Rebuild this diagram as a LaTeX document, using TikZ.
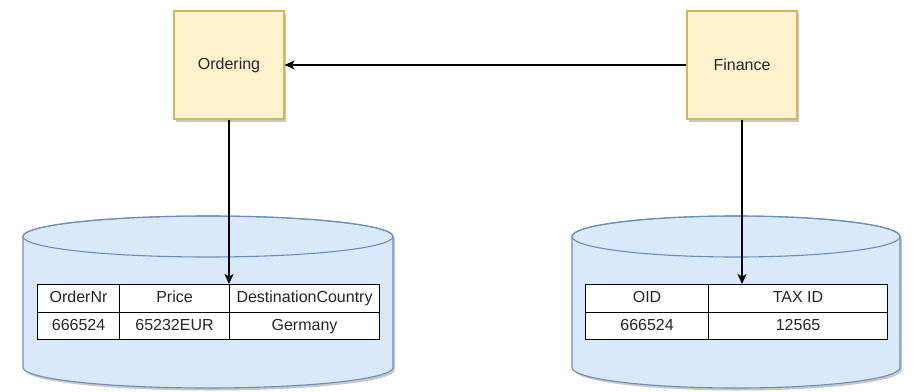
\documentclass[tikz,border=0pt]{standalone}
\usepackage{fontspec}
\setmainfont{Liberation Sans}
\usetikzlibrary{arrows.meta,shadows}
\definecolor{svcfill}{HTML}{FFF2CC}
\definecolor{svcline}{HTML}{D6B656}
\definecolor{dbfill}{HTML}{DAE8FC}
\definecolor{dbline}{HTML}{6C8EBF}
\tikzset{
  softshadow/.style={drop shadow={shadow xshift=2pt, shadow yshift=-2.5pt, opacity=0.22, fill=black}},
  service/.style={draw=svcline, fill=svcfill, line width=1.1pt, minimum width=110pt, minimum height=108pt,
    inner sep=0pt, font=\fontsize{16}{19}\selectfont, text=black!85, softshadow},
  dbshape/.style={draw=dbline, fill=dbfill, line width=1.1pt},
  cell/.style={draw=black, fill=white, line width=1.1pt, minimum height=27.5pt, inner sep=0pt,
    text height=11.5pt, text depth=3pt,
    anchor=north west, font=\fontsize{16}{19}\selectfont, text=black!85},
  flow/.style={draw=black, line width=1.2pt, -{Stealth[length=10pt,width=9pt,inset=2.5pt]}}
}
\begin{document}
\begin{tikzpicture}[x=1pt,y=-1pt]
\useasboundingbox (0,0) rectangle (913,391);

% database cylinders
\path[dbshape, softshadow] (23,236.5) -- (23,367.5)
  arc[start angle=180, end angle=360, x radius=185pt, y radius=20.5pt] -- (393,236.5)
  arc[start angle=0, end angle=180, x radius=185pt, y radius=20.5pt] -- cycle;
\draw[dbline, line width=1.1pt] (208,236.5) ellipse[x radius=185pt, y radius=20.5pt];

\path[dbshape, softshadow] (572,236.5) -- (572,367.5)
  arc[start angle=180, end angle=360, x radius=164pt, y radius=20.5pt] -- (900,236.5)
  arc[start angle=0, end angle=180, x radius=164pt, y radius=20.5pt] -- cycle;
\draw[dbline, line width=1.1pt] (736,236.5) ellipse[x radius=164pt, y radius=20.5pt];

% services
\node[service] (ordering) at (229,65) {Ordering};
\node[service] (finance) at (742,65) {Finance};

% ordering table
\node[cell, minimum width=82pt]  (o11) at (37,284) {OrderNr};
\node[cell, minimum width=110pt] (o12) at (119,284) {Price};
\node[cell, minimum width=150pt] (o13) at (229,284) {DestinationCountry};
\node[cell, minimum width=82pt]  (o21) at (37,311.5) {666524};
\node[cell, minimum width=110pt] (o22) at (119,311.5) {65232EUR};
\node[cell, minimum width=150pt] (o23) at (229,311.5) {Germany};

% finance table
\node[cell, minimum width=123pt] (f11) at (585,284) {OID};
\node[cell, minimum width=179pt] (f12) at (708,284) {TAX ID};
\node[cell, minimum width=123pt] (f21) at (585,311.5) {666524};
\node[cell, minimum width=179pt] (f22) at (708,311.5) {12565};

% connectors
\draw[flow] (finance.west) -- (ordering.east);
\draw[flow] (ordering.south) -- (ordering.south |- o13.north);
\draw[flow] (finance.south) -- (finance.south |- f12.north);
\end{tikzpicture}
\end{document}
